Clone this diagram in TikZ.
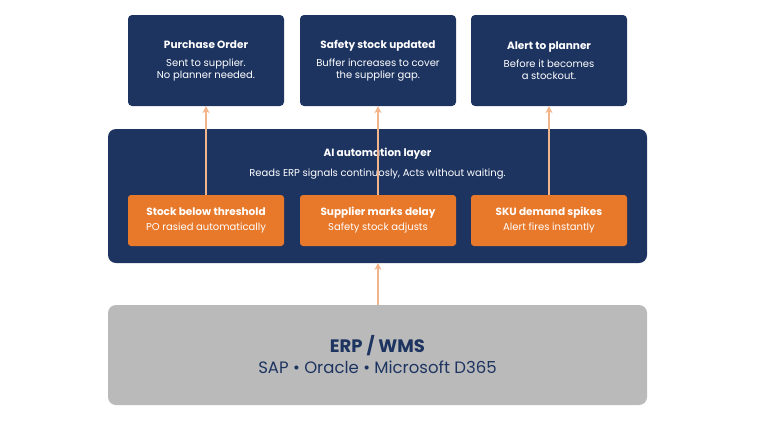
\documentclass[tikz,border=0pt]{standalone}
\usepackage{fontspec}
\setmainfont{Poppins}
\usetikzlibrary{arrows.meta}
\definecolor{navy}{HTML}{1D3461}
\definecolor{org}{HTML}{E8782A}
\definecolor{lorg}{HTML}{F2B48A}
\definecolor{gry}{HTML}{BABABA}
\begin{document}
\begin{tikzpicture}[x=1pt,y=-1pt,
 top/.style={fill=navy,rounded corners=4pt,minimum width=156pt,minimum height=91pt,text=white,align=center,inner sep=0pt},
 ob/.style={fill=org,rounded corners=3pt,minimum width=156pt,minimum height=51pt,text=white,align=center,inner sep=0pt},
 arr/.style={draw=lorg,line width=1.1pt,-{Stealth[length=7pt,width=7pt]}}]
\useasboundingbox (0,0) rectangle (768,432);
\node[top] (t1) at (206,60.5) {\fontsize{10.5}{13}\selectfont\bfseries Purchase Order\\[6pt]\fontsize{10}{12.5}\selectfont Sent to supplier.\\\fontsize{10}{12.5}\selectfont No planner needed.};
\node[top] (t2) at (378,60.5) {\fontsize{10.5}{13}\selectfont\bfseries Safety stock updated\\[6pt]\fontsize{10}{12.5}\selectfont Buffer increases to cover\\\fontsize{10}{12.5}\selectfont the supplier gap.};
\node[top] (t3) at (549,60.5) {\fontsize{10.5}{13}\selectfont\bfseries Alert to planner\\[6pt]\fontsize{10}{12.5}\selectfont Before it becomes\\\fontsize{10}{12.5}\selectfont a stockout.};
\node[fill=navy,rounded corners=8pt,minimum width=539pt,minimum height=134pt,inner sep=0pt] (ai) at (377.5,196) {};
\node[text=white,font=\fontsize{10.5}{13}\selectfont\bfseries] (ait) at (377.5,154) {AI automation layer};
\node[text=white,font=\fontsize{10}{12.5}\selectfont] (ais) at (377.5,174) {Reads ERP signals continuosly, Acts without waiting.};
\node[ob] (o1) at (206,220.5) {\fontsize{10.5}{13}\selectfont\bfseries Stock below threshold\\[3pt]\fontsize{10}{12.5}\selectfont PO rasied automatically};
\node[ob] (o2) at (378,220.5) {\fontsize{10.5}{13}\selectfont\bfseries Supplier marks delay\\[3pt]\fontsize{10}{12.5}\selectfont Safety stock adjusts};
\node[ob] (o3) at (549,220.5) {\fontsize{10.5}{13}\selectfont\bfseries SKU demand spikes\\[3pt]\fontsize{10}{12.5}\selectfont Alert fires instantly};
\node[fill=gry,rounded corners=8pt,minimum width=539pt,minimum height=100pt,text=navy,align=center,inner sep=0pt] (erp) at (377.5,355) {\fontsize{18}{22}\selectfont\bfseries ERP / WMS\\[4pt]\fontsize{16.5}{20}\selectfont SAP • Oracle • Microsoft D365};
\coordinate (ea) at (378,305);
\coordinate (eb) at (378,263);
\draw[arr] (o1.north) -- (t1.south);
\draw[arr] (o2.north) -- (t2.south);
\draw[arr] (o3.north) -- (t3.south);
\draw[arr] (ea) -- (eb);
\end{tikzpicture}
\end{document}
